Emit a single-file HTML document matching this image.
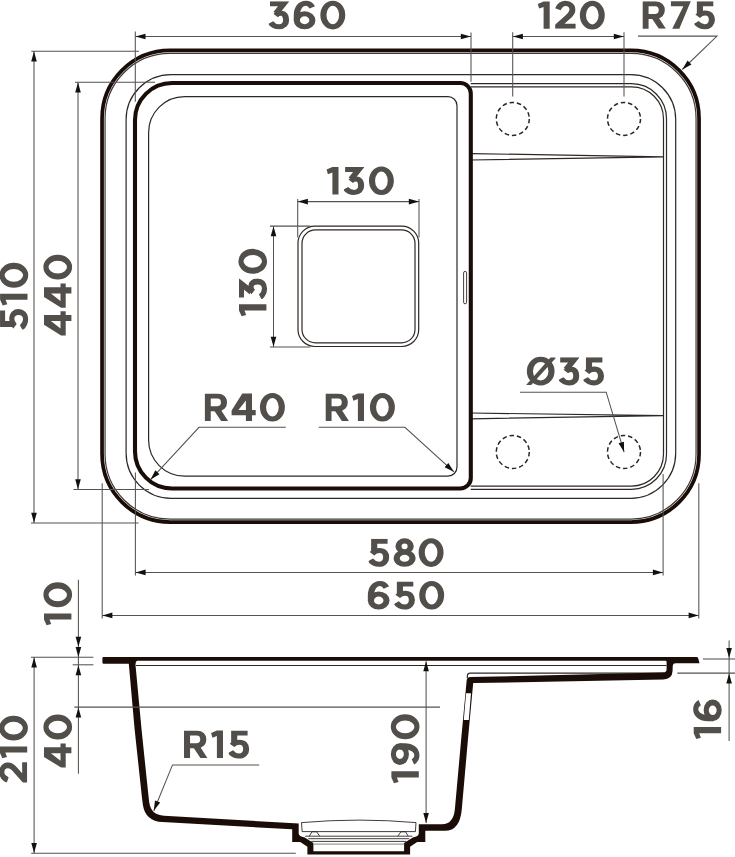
<!DOCTYPE html>
<html><head><meta charset="utf-8"><title>Sink drawing</title>
<style>
html,body{margin:0;padding:0;background:#fff;}
body{width:735px;height:857px;overflow:hidden;font-family:"Liberation Sans",sans-serif;}
svg{display:block}
.k{fill:none;stroke:#1a0d08;stroke-width:3}
.kf{fill:#1a0d08;fill-rule:evenodd;stroke:none}
.t{fill:none;stroke:#2e2724;stroke-width:1.2}
.d{fill:none;stroke:#555250;stroke-width:1.05}
.a{fill:#14100e;stroke:none}
.dash{fill:none;stroke:#2a2523;stroke-width:1.5;stroke-dasharray:4.5 2.9}
.gs{fill:none;stroke:#524e4a;stroke-width:5.1;stroke-linejoin:miter;stroke-miterlimit:6}
.gk{fill:none;stroke:#524e4a;stroke-width:3.0}
.gf{fill:#524e4a;stroke:none;fill-rule:evenodd}
</style></head>
<body>
<svg width="735" height="857" viewBox="0 0 735 857">
<defs><clipPath id="c50"><rect x="0.000" y="-1" width="17.000" height="28.9"/></clipPath><clipPath id="c51"><rect x="0.000" y="0.45" width="17.167" height="28.55"/></clipPath><clipPath id="c53"><rect x="0.000" y="0.45" width="17.333" height="28.55"/></clipPath><clipPath id="c82"><rect x="0.000" y="0.45" width="19.583" height="27.45"/></clipPath></defs>
<rect x="0" y="0" width="735" height="857" fill="#ffffff"/>
<path class="k" style="stroke-width:3.7" d="M170.05,50.45 H631.05 A68.00,68.00 0 0 1 699.05,118.45 V454.05 A68.00,68.00 0 0 1 631.05,522.05 H170.05 A68.00,68.00 0 0 1 102.05,454.05 V118.45 A68.00,68.00 0 0 1 170.05,50.45 Z"/>
<path class="t" style="stroke:#3f3835;stroke-width:1.2" d="M170.05,53.45 H631.05 A65.00,65.00 0 0 1 696.05,118.45 V454.05 A65.00,65.00 0 0 1 631.05,519.05 H170.05 A65.00,65.00 0 0 1 105.05,454.05 V118.45 A65.00,65.00 0 0 1 170.05,53.45 Z"/>
<path class="t" d="M171.10,74.60 H630.70 A45.00,45.00 0 0 1 675.70,119.60 V453.30 A45.00,45.00 0 0 1 630.70,498.30 H171.10 A45.00,45.00 0 0 1 126.10,453.30 V119.60 A45.00,45.00 0 0 1 171.10,74.60 Z"/>
<path class="t" d="M470.7,83.70 H631.50 A35,35 0 0 1 666.50,118.70 V454.30 A35,35 0 0 1 631.50,489.30 H470.7"/>
<path class="t" d="M470.7,86.90 H631.50 A32,32 0 0 1 663.50,118.90 V454.10 A32,32 0 0 1 631.50,486.10 H470.7"/>
<path class="t" d="M471,153.6 L663.5,156.8 L471,160.0"/>
<path class="t" d="M471,413.0 L663.5,415.6 L471,418.8"/>
<path class="k" style="stroke-width:4.1" d="M172.00,83.00 H460.30 A10.50,10.50 0 0 1 470.80,93.50 V478.00 A10.50,10.50 0 0 1 460.30,488.50 H172.00 A37.00,37.00 0 0 1 135.00,451.50 V120.00 A37.00,37.00 0 0 1 172.00,83.00 Z"/>
<path class="t" d="M184.60,96.60 H448.00 A9.00,9.00 0 0 1 457.00,105.60 V467.10 A9.00,9.00 0 0 1 448.00,476.10 H184.60 A36.00,36.00 0 0 1 148.60,440.10 V132.60 A36.00,36.00 0 0 1 184.60,96.60 Z"/>
<rect class="t" style="stroke-width:0.9" x="463.6" y="271.4" width="3.0" height="32.4" rx="1.5"/>
<path class="t" d="M315.00,226.10 H401.70 A17.00,17.00 0 0 1 418.70,243.10 V329.50 A17.00,17.00 0 0 1 401.70,346.50 H315.00 A17.00,17.00 0 0 1 298.00,329.50 V243.10 A17.00,17.00 0 0 1 315.00,226.10 Z"/>
<path class="t" d="M315.50,229.90 H401.50 A13.50,13.50 0 0 1 415.00,243.40 V329.40 A13.50,13.50 0 0 1 401.50,342.90 H315.50 A13.50,13.50 0 0 1 302.00,329.40 V243.40 A13.50,13.50 0 0 1 315.50,229.90 Z"/>
<circle class="dash" cx="512.8" cy="118.9" r="16.5"/>
<circle class="dash" cx="624.0" cy="118.9" r="16.5"/>
<circle class="dash" cx="512.8" cy="452.0" r="16.5"/>
<circle class="dash" cx="624.0" cy="452.0" r="16.5"/>
<path class="d" d="M135.30,31.60 L135.30,101.80"/>
<path class="d" d="M471.00,32.50 L471.00,81.70"/>
<path class="d" d="M135.30,36.50 L471.00,36.50"/>
<path class="a" d="M135.50,36.50 L145.50,33.70 L145.50,39.30 Z"/>
<path class="a" d="M470.80,36.50 L460.80,39.30 L460.80,33.70 Z"/>
<path class="d" d="M512.70,32.20 L512.70,96.40"/>
<path class="d" d="M624.00,32.20 L624.00,96.40"/>
<path class="d" d="M512.70,36.50 L624.00,36.50"/>
<path class="a" d="M512.90,36.50 L522.90,33.70 L522.90,39.30 Z"/>
<path class="a" d="M623.80,36.50 L613.80,39.30 L613.80,33.70 Z"/>
<path class="d" d="M638,36.1 H717 L682.3,69.5"/>
<path class="a" d="M682.30,69.50 L687.56,60.55 L691.45,64.58 Z"/>
<path class="d" d="M31.30,51.30 L138.90,51.30"/>
<path class="d" d="M31.00,522.90 L138.50,522.90"/>
<path class="d" d="M34.00,51.30 L34.00,522.90"/>
<path class="a" d="M34.00,51.50 L36.80,61.50 L31.20,61.50 Z"/>
<path class="a" d="M34.00,522.70 L31.20,512.70 L36.80,512.70 Z"/>
<path class="d" d="M75.00,82.30 L155.00,82.30"/>
<path class="d" d="M73.40,489.40 L149.00,489.40"/>
<path class="d" d="M78.00,82.30 L78.00,489.40"/>
<path class="a" d="M78.00,82.50 L80.80,92.50 L75.20,92.50 Z"/>
<path class="a" d="M78.00,489.20 L75.20,479.20 L80.80,479.20 Z"/>
<path class="d" d="M297.70,198.90 L297.70,237.60"/>
<path class="d" d="M419.00,198.90 L419.00,237.60"/>
<path class="d" d="M297.70,201.60 L419.00,201.60"/>
<path class="a" d="M297.90,201.60 L307.90,198.80 L307.90,204.40 Z"/>
<path class="a" d="M418.80,201.60 L408.80,204.40 L408.80,198.80 Z"/>
<path class="d" d="M270.00,226.10 L310.30,226.10"/>
<path class="d" d="M270.00,346.90 L310.30,346.90"/>
<path class="d" d="M273.50,226.10 L273.50,346.90"/>
<path class="a" d="M273.50,226.30 L276.30,236.30 L270.70,236.30 Z"/>
<path class="a" d="M273.50,346.70 L270.70,336.70 L276.30,336.70 Z"/>
<path class="d" d="M285.8,427.3 H199 L150.6,479.6"/>
<path class="a" d="M150.60,479.60 L155.34,470.36 L159.45,474.16 Z"/>
<path class="d" d="M318.7,427.3 H404.9 L453.9,471.8"/>
<path class="a" d="M453.90,471.80 L444.61,467.15 L448.38,463.00 Z"/>
<path class="d" d="M520,392.2 H606.2 L624.1,452.1"/>
<path class="a" d="M624.10,452.10 L618.55,443.32 L623.92,441.72 Z"/>
<path class="d" d="M135.40,472.60 L135.40,575.40"/>
<path class="d" d="M663.10,473.90 L663.10,575.40"/>
<path class="d" d="M135.40,572.40 L663.10,572.40"/>
<path class="a" d="M135.60,572.40 L145.60,569.60 L145.60,575.20 Z"/>
<path class="a" d="M662.90,572.40 L652.90,575.20 L652.90,569.60 Z"/>
<path class="d" d="M102.20,483.30 L102.20,618.40"/>
<path class="d" d="M698.80,483.30 L698.80,618.40"/>
<path class="d" d="M102.20,615.40 L698.80,615.40"/>
<path class="a" d="M102.40,615.40 L112.40,612.60 L112.40,618.20 Z"/>
<path class="a" d="M698.60,615.40 L688.60,618.20 L688.60,612.60 Z"/>
<path class="t" d="M136.0,665.5 H666.4"/>
<path class="t" d="M467.2,678 L467.5,675.2 Q467.8,673.1 470,673.1 H664.5"/>
<path class="kf" d="M103.6,657.0 H696.4 Q697.8,657 698.2,658.3 L699.5,663.2 H675.6 Q673.0,663.2 672.8,665.6 L672.5,671.5 Q672.0,679.3 663.5,679.4 L473.2,683.1 L467.9,740 L461.8,809 Q460.0,830.8 445,830.8 H425.3 V842 H417.2 L410.1,846.8 V854.5 H307.4 V846.8 L300.3,842 H292.2 V829.3 L162.5,822.1 Q145.4,821.2 142.9,805 L142.0,798 L134.7,730 L128.8,663.8 H103.6 Q102.4,663.8 102.4,662.6 V658.2 Q102.4,657 103.6,657 Z M137.0,660.7 H665.4 Q666.6,660.7 666.6,662 V669.6 Q666.5,672.5 663,672.6 L470.5,677.1 Q467.1,677.2 466.7,680 L461.1,740 L454.9,809 Q453.4,824.3 442,824.3 H418.8 V833.6 Q418.8,836.6 412.8,837.4 L404.1,843 V851.2 H313.4 V843 L304.7,837.4 Q298.7,836.6 298.7,833.6 V823.5 L164,815.7 Q150.8,815.0 149.2,802 L148.4,795.3 L141.6,730 L135.6,666 Q135.2,661.2 137.0,660.7 Z"/>
<path d="M466.1,693.3 L471.0,693.3 L468.8,720.1 L463.8,720.1 Z" fill="#fff" stroke="none"/>
<path class="t" style="stroke-width:0.9" d="M301.5,822.6 Q359,817.6 416.0,822.6 L415.4,831.6 H302.1 Z"/>
<path class="t" style="stroke-width:0.9" d="M305.2,836.2 H412.3 M308.3,838.7 H409.2 M311.2,841.4 H406.3"/>
<path class="t" style="stroke-width:0.9;stroke:#77716e" d="M313.6,844.1 H403.9"/>
<path class="t" style="stroke-width:0.9" d="M309.3,836.2 L311.9,831.8 H316.6 L319.7,836.2 M397.8,836.2 L400.9,831.8 H405.6 L408.2,836.2"/>
<path class="d" d="M78.40,579.80 L78.40,773.80"/>
<path class="d" d="M31.00,657.30 L93.40,657.30"/>
<path class="d" d="M72.70,664.80 L93.40,664.80"/>
<path class="d" d="M74.40,707.10 L440.00,707.10"/>
<path class="a" d="M78.40,646.80 L75.60,636.80 L81.20,636.80 Z"/>
<path class="a" d="M78.40,657.00 L75.60,647.00 L81.20,647.00 Z"/>
<path class="a" d="M78.40,665.20 L81.20,675.20 L75.60,675.20 Z"/>
<path class="a" d="M78.40,707.40 L81.20,717.40 L75.60,717.40 Z"/>
<path class="d" d="M34.10,657.30 L34.10,853.30"/>
<path class="d" d="M31.20,853.30 L295.80,853.30"/>
<path class="a" d="M34.10,657.60 L36.90,667.60 L31.30,667.60 Z"/>
<path class="a" d="M34.10,853.00 L31.30,843.00 L36.90,843.00 Z"/>
<path class="d" d="M259.2,764.9 H172.5 L153.8,810.8"/>
<path class="a" d="M153.80,810.80 L154.98,800.48 L160.17,802.60 Z"/>
<path class="d" d="M426.10,661.30 L426.10,823.00"/>
<path class="a" d="M426.10,661.30 L428.90,671.30 L423.30,671.30 Z"/>
<path class="a" d="M426.10,823.00 L423.30,813.00 L428.90,813.00 Z"/>
<path class="d" d="M729.10,640.40 L729.10,741.00"/>
<path class="d" d="M703.00,659.00 L735.00,659.00"/>
<path class="d" d="M677.30,673.10 L735.00,673.10"/>
<path class="a" d="M729.10,658.00 L726.30,648.00 L731.90,648.00 Z"/>
<path class="a" d="M729.10,673.40 L731.90,683.40 L726.30,683.40 Z"/>
<g transform="translate(268.70,0.80) scale(1.2,1)" clip-path="url(#c51)"><path class="gs" d="M 1.083,2.950 H 12.500 L 6.083,12.600"/><path class="gs" d="M 5.750,14.700 C 7.167,13.200 8.583,12.500 10.167,12.500 C 13.000,12.300 14.500,15.200 14.500,19.100 C 14.500,23.200 12.167,26.000 8.583,26.000 C 5.667,26.000 3.333,24.500 1.583,21.800"/></g>
<g transform="translate(293.80,0.80) scale(1.2,1)"><ellipse class="gs" cx="9.000" cy="19.5" rx="6.500" ry="6.5"/><path class="gs" d="M 15.417,6.500 C 14.083,3.900 12.333,2.500 10.167,2.500 C 5.500,2.500 2.500,7.400 2.500,14.600 L 2.500,19.800"/></g>
<g transform="translate(320.40,0.80) scale(1.2,1)"><ellipse class="gs" cx="10.333" cy="14.25" rx="7.833" ry="11.8"/></g>
<g transform="translate(537.80,0.90) scale(1.2,1)"><path class="gf" d="M 4.833,0.500 H 9.917 V 27.900 H 4.833 V 6.000 L 1.083,7.700 L 0.000,3.100 Z"/></g>
<g transform="translate(555.20,0.90) scale(1.2,1)" clip-path="url(#c50)"><path class="gs" d="M 2.167,8.400 C 3.667,4.700 5.917,2.500 8.667,2.500 C 12.167,2.500 14.417,5.100 14.417,8.600 C 14.417,11.700 13.083,13.600 10.333,16.400 L 1.833,25.400 H 17.500"/></g>
<g transform="translate(579.90,0.90) scale(1.2,1)"><ellipse class="gs" cx="10.333" cy="14.25" rx="7.833" ry="11.8"/></g>
<g transform="translate(642.50,0.80) scale(1.2,1)" clip-path="url(#c82)"><path class="gs" d="M 2.500,30.000 V 2.950 H 10.667 C 14.250,2.950 16.083,5.600 16.083,9.300 C 16.083,13.000 14.250,15.700 10.667,15.700 H 2.500"/><path class="gf" d="M 7.833,17.600 L 13.000,16.000 L 19.500,27.900 H 13.667 Z"/></g>
<g transform="translate(670.50,0.80) scale(1.2,1)"><path class="gf" d="M 0.333,0.500 H 16.917 L 7.333,27.900 H 1.417 L 10.750,5.500 H 0.333 Z"/></g>
<g transform="translate(694.30,0.80) scale(1.2,1)" clip-path="url(#c53)"><path class="gs" d="M 15.833,2.950 H 4.667 V 14.400"/><path class="gs" d="M 2.833,15.400 C 4.667,13.300 6.667,12.200 9.083,12.200 C 12.583,12.200 14.667,15.000 14.667,19.000 C 14.667,23.100 12.333,26.000 8.583,26.000 C 5.667,26.000 3.333,24.400 1.583,21.700"/></g>
<g transform="translate(326.60,166.50) scale(1.2,1)"><path class="gf" d="M 4.833,0.500 H 9.917 V 27.900 H 4.833 V 6.000 L 1.083,7.700 L 0.000,3.100 Z"/></g>
<g transform="translate(343.80,166.50) scale(1.2,1)" clip-path="url(#c51)"><path class="gs" d="M 1.083,2.950 H 12.500 L 6.083,12.600"/><path class="gs" d="M 5.750,14.700 C 7.167,13.200 8.583,12.500 10.167,12.500 C 13.000,12.300 14.500,15.200 14.500,19.100 C 14.500,23.200 12.167,26.000 8.583,26.000 C 5.667,26.000 3.333,24.500 1.583,21.800"/></g>
<g transform="translate(369.00,166.50) scale(1.2,1)"><ellipse class="gs" cx="10.333" cy="14.25" rx="7.833" ry="11.8"/></g>
<g transform="translate(238.50,316.20) rotate(-90) scale(1.2,1)"><path class="gf" d="M 4.833,0.500 H 9.917 V 27.900 H 4.833 V 6.000 L 1.083,7.700 L 0.000,3.100 Z"/></g>
<g transform="translate(238.50,298.90) rotate(-90) scale(1.2,1)" clip-path="url(#c51)"><path class="gs" d="M 1.083,2.950 H 12.500 L 6.083,12.600"/><path class="gs" d="M 5.750,14.700 C 7.167,13.200 8.583,12.500 10.167,12.500 C 13.000,12.300 14.500,15.200 14.500,19.100 C 14.500,23.200 12.167,26.000 8.583,26.000 C 5.667,26.000 3.333,24.500 1.583,21.800"/></g>
<g transform="translate(238.50,273.70) rotate(-90) scale(1.2,1)"><ellipse class="gs" cx="10.333" cy="14.25" rx="7.833" ry="11.8"/></g>
<g transform="translate(-0.40,329.60) rotate(-90) scale(1.2,1)" clip-path="url(#c53)"><path class="gs" d="M 15.833,2.950 H 4.667 V 14.400"/><path class="gs" d="M 2.833,15.400 C 4.667,13.300 6.667,12.200 9.083,12.200 C 12.583,12.200 14.667,15.000 14.667,19.000 C 14.667,23.100 12.333,26.000 8.583,26.000 C 5.667,26.000 3.333,24.400 1.583,21.700"/></g>
<g transform="translate(-0.40,305.60) rotate(-90) scale(1.2,1)"><path class="gf" d="M 4.833,0.500 H 9.917 V 27.900 H 4.833 V 6.000 L 1.083,7.700 L 0.000,3.100 Z"/></g>
<g transform="translate(-0.40,287.70) rotate(-90) scale(1.2,1)"><ellipse class="gs" cx="10.333" cy="14.25" rx="7.833" ry="11.8"/></g>
<g transform="translate(43.50,335.40) rotate(-90) scale(1.2,1)"><path class="gf" d="M 8.917,0.500 H 17.000 V 17.000 H 20.083 V 22.200 H 17.000 V 27.900 H 11.917 V 22.200 H 0.000 V 17.600 Z M 11.917,7.400 V 17.000 H 5.667 Z"/></g>
<g transform="translate(43.50,307.70) rotate(-90) scale(1.2,1)"><path class="gf" d="M 8.917,0.500 H 17.000 V 17.000 H 20.083 V 22.200 H 17.000 V 27.900 H 11.917 V 22.200 H 0.000 V 17.600 Z M 11.917,7.400 V 17.000 H 5.667 Z"/></g>
<g transform="translate(43.50,279.50) rotate(-90) scale(1.2,1)"><ellipse class="gs" cx="10.333" cy="14.25" rx="7.833" ry="11.8"/></g>
<g transform="translate(204.70,393.00) scale(1.2,1)" clip-path="url(#c82)"><path class="gs" d="M 2.500,30.000 V 2.950 H 10.667 C 14.250,2.950 16.083,5.600 16.083,9.300 C 16.083,13.000 14.250,15.700 10.667,15.700 H 2.500"/><path class="gf" d="M 7.833,17.600 L 13.000,16.000 L 19.500,27.900 H 13.667 Z"/></g>
<g transform="translate(231.60,393.00) scale(1.2,1)"><path class="gf" d="M 8.917,0.500 H 17.000 V 17.000 H 20.083 V 22.200 H 17.000 V 27.900 H 11.917 V 22.200 H 0.000 V 17.600 Z M 11.917,7.400 V 17.000 H 5.667 Z"/></g>
<g transform="translate(260.00,393.00) scale(1.2,1)"><ellipse class="gs" cx="10.333" cy="14.25" rx="7.833" ry="11.8"/></g>
<g transform="translate(325.50,393.00) scale(1.2,1)" clip-path="url(#c82)"><path class="gs" d="M 2.500,30.000 V 2.950 H 10.667 C 14.250,2.950 16.083,5.600 16.083,9.300 C 16.083,13.000 14.250,15.700 10.667,15.700 H 2.500"/><path class="gf" d="M 7.833,17.600 L 13.000,16.000 L 19.500,27.900 H 13.667 Z"/></g>
<g transform="translate(352.10,393.00) scale(1.2,1)"><path class="gf" d="M 4.833,0.500 H 9.917 V 27.900 H 4.833 V 6.000 L 1.083,7.700 L 0.000,3.100 Z"/></g>
<g transform="translate(370.00,393.00) scale(1.2,1)"><ellipse class="gs" cx="10.333" cy="14.25" rx="7.833" ry="11.8"/></g>
<g transform="translate(526.90,356.90) scale(1.2,1)"><ellipse class="gs" cx="11.500" cy="14.25" rx="9.000" ry="11.8"/><path class="gf" d="M -0.667,28.000 L 19.667,0.500 H 23.667 L 23.917,1.300 L 3.583,28.000 Z"/></g>
<g transform="translate(558.90,356.90) scale(1.2,1)" clip-path="url(#c51)"><path class="gs" d="M 1.083,2.950 H 12.500 L 6.083,12.600"/><path class="gs" d="M 5.750,14.700 C 7.167,13.200 8.583,12.500 10.167,12.500 C 13.000,12.300 14.500,15.200 14.500,19.100 C 14.500,23.200 12.167,26.000 8.583,26.000 C 5.667,26.000 3.333,24.500 1.583,21.800"/></g>
<g transform="translate(583.40,356.90) scale(1.2,1)" clip-path="url(#c53)"><path class="gs" d="M 15.833,2.950 H 4.667 V 14.400"/><path class="gs" d="M 2.833,15.400 C 4.667,13.300 6.667,12.200 9.083,12.200 C 12.583,12.200 14.667,15.000 14.667,19.000 C 14.667,23.100 12.333,26.000 8.583,26.000 C 5.667,26.000 3.333,24.400 1.583,21.700"/></g>
<g transform="translate(368.60,538.30) scale(1.2,1)" clip-path="url(#c53)"><path class="gs" d="M 15.833,2.950 H 4.667 V 14.400"/><path class="gs" d="M 2.833,15.400 C 4.667,13.300 6.667,12.200 9.083,12.200 C 12.583,12.200 14.667,15.000 14.667,19.000 C 14.667,23.100 12.333,26.000 8.583,26.000 C 5.667,26.000 3.333,24.400 1.583,21.700"/></g>
<g transform="translate(393.60,538.30) scale(1.2,1)"><ellipse class="gs" cx="9.167" cy="8.0" rx="5.083" ry="5.4"/><ellipse class="gs" cx="9.167" cy="20.0" rx="6.583" ry="6.0"/></g>
<g transform="translate(418.70,538.30) scale(1.2,1)"><ellipse class="gs" cx="10.333" cy="14.25" rx="7.833" ry="11.8"/></g>
<g transform="translate(367.90,581.00) scale(1.2,1)"><ellipse class="gs" cx="9.000" cy="19.5" rx="6.500" ry="6.5"/><path class="gs" d="M 15.417,6.500 C 14.083,3.900 12.333,2.500 10.167,2.500 C 5.500,2.500 2.500,7.400 2.500,14.600 L 2.500,19.800"/></g>
<g transform="translate(394.30,581.00) scale(1.2,1)" clip-path="url(#c53)"><path class="gs" d="M 15.833,2.950 H 4.667 V 14.400"/><path class="gs" d="M 2.833,15.400 C 4.667,13.300 6.667,12.200 9.083,12.200 C 12.583,12.200 14.667,15.000 14.667,19.000 C 14.667,23.100 12.333,26.000 8.583,26.000 C 5.667,26.000 3.333,24.400 1.583,21.700"/></g>
<g transform="translate(419.30,581.00) scale(1.2,1)"><ellipse class="gs" cx="10.333" cy="14.25" rx="7.833" ry="11.8"/></g>
<g transform="translate(43.50,625.30) rotate(-90) scale(1.2,1)"><path class="gf" d="M 4.833,0.500 H 9.917 V 27.900 H 4.833 V 6.000 L 1.083,7.700 L 0.000,3.100 Z"/></g>
<g transform="translate(43.50,607.20) rotate(-90) scale(1.2,1)"><ellipse class="gs" cx="10.333" cy="14.25" rx="7.833" ry="11.8"/></g>
<g transform="translate(43.50,767.60) rotate(-90) scale(1.2,1)"><path class="gf" d="M 8.917,0.500 H 17.000 V 17.000 H 20.083 V 22.200 H 17.000 V 27.900 H 11.917 V 22.200 H 0.000 V 17.600 Z M 11.917,7.400 V 17.000 H 5.667 Z"/></g>
<g transform="translate(43.50,739.40) rotate(-90) scale(1.2,1)"><ellipse class="gs" cx="10.333" cy="14.25" rx="7.833" ry="11.8"/></g>
<g transform="translate(-0.70,782.60) rotate(-90) scale(1.2,1)" clip-path="url(#c50)"><path class="gs" d="M 2.167,8.400 C 3.667,4.700 5.917,2.500 8.667,2.500 C 12.167,2.500 14.417,5.100 14.417,8.600 C 14.417,11.700 13.083,13.600 10.333,16.400 L 1.833,25.400 H 17.500"/></g>
<g transform="translate(-0.70,758.30) rotate(-90) scale(1.2,1)"><path class="gf" d="M 4.833,0.500 H 9.917 V 27.900 H 4.833 V 6.000 L 1.083,7.700 L 0.000,3.100 Z"/></g>
<g transform="translate(-0.70,740.50) rotate(-90) scale(1.2,1)"><ellipse class="gs" cx="10.333" cy="14.25" rx="7.833" ry="11.8"/></g>
<g transform="translate(184.00,730.00) scale(1.2,1)" clip-path="url(#c82)"><path class="gs" d="M 2.500,30.000 V 2.950 H 10.667 C 14.250,2.950 16.083,5.600 16.083,9.300 C 16.083,13.000 14.250,15.700 10.667,15.700 H 2.500"/><path class="gf" d="M 7.833,17.600 L 13.000,16.000 L 19.500,27.900 H 13.667 Z"/></g>
<g transform="translate(211.10,730.00) scale(1.2,1)"><path class="gf" d="M 4.833,0.500 H 9.917 V 27.900 H 4.833 V 6.000 L 1.083,7.700 L 0.000,3.100 Z"/></g>
<g transform="translate(228.60,730.00) scale(1.2,1)" clip-path="url(#c53)"><path class="gs" d="M 15.833,2.950 H 4.667 V 14.400"/><path class="gs" d="M 2.833,15.400 C 4.667,13.300 6.667,12.200 9.083,12.200 C 12.583,12.200 14.667,15.000 14.667,19.000 C 14.667,23.100 12.333,26.000 8.583,26.000 C 5.667,26.000 3.333,24.400 1.583,21.700"/></g>
<g transform="translate(390.90,783.20) rotate(-90) scale(1.2,1)"><path class="gf" d="M 4.833,0.500 H 9.917 V 27.900 H 4.833 V 6.000 L 1.083,7.700 L 0.000,3.100 Z"/></g>
<g transform="translate(390.90,765.00) rotate(-90) scale(1.2,1)"><g transform="rotate(180 9.000 14.25)"><ellipse class="gs" cx="9.000" cy="19.5" rx="6.500" ry="6.5"/><path class="gs" d="M 15.417,6.500 C 14.083,3.900 12.333,2.500 10.167,2.500 C 5.500,2.500 2.500,7.400 2.500,14.600 L 2.500,19.800"/></g></g>
<g transform="translate(390.90,739.20) rotate(-90) scale(1.2,1)"><ellipse class="gs" cx="10.333" cy="14.25" rx="7.833" ry="11.8"/></g>
<g transform="translate(693.20,739.00) rotate(-90) scale(1.2,1)"><path class="gf" d="M 4.833,0.500 H 9.917 V 27.900 H 4.833 V 6.000 L 1.083,7.700 L 0.000,3.100 Z"/></g>
<g transform="translate(693.20,721.10) rotate(-90) scale(1.2,1)"><ellipse class="gs" cx="9.000" cy="19.5" rx="6.500" ry="6.5"/><path class="gs" d="M 15.417,6.500 C 14.083,3.900 12.333,2.500 10.167,2.500 C 5.500,2.500 2.500,7.400 2.500,14.600 L 2.500,19.800"/></g>
</svg>
</body></html>
